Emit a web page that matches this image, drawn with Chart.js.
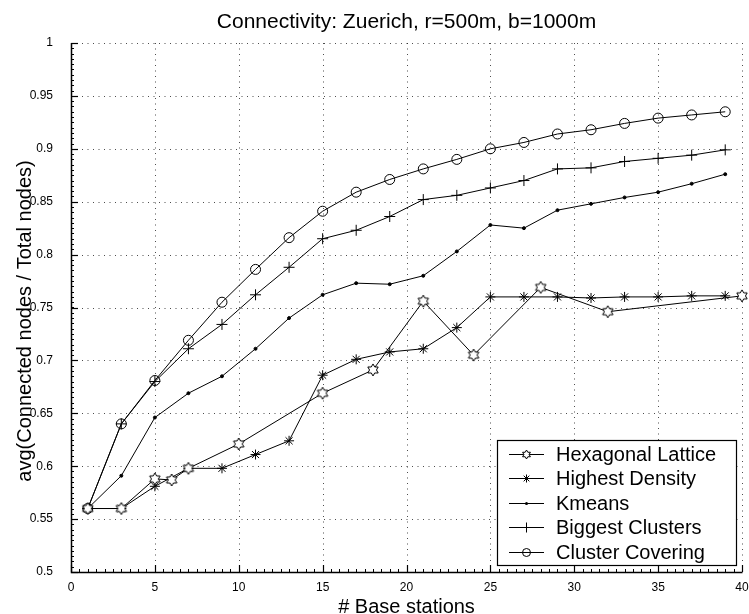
<!DOCTYPE html>
<html>
<head>
<meta charset="utf-8">
<script src="https://cdn.jsdelivr.net/npm/chart.js@4/dist/chart.umd.min.js"></script>
<style>
  html, body { margin: 0; padding: 0; background: #fff; }
  #wrap { width: 749px; height: 614px; }
</style>
</head>
<body>
<div id="wrap"><canvas id="c" width="749" height="614"></canvas></div>
<script>
const FONT = "'Liberation Sans', Arial, Helvetica, sans-serif";

const chartTitle = 'Connectivity: Zuerich, r=500m, b=1000m';
const xAxisTitle = '# Base stations';
const yAxisTitle = 'avg(Connected nodes / Total nodes)';

const xTickValues = [0, 5, 10, 15, 20, 25, 30, 35, 40];
const xTickLabels = ['0', '5', '10', '15', '20', '25', '30', '35', '40'];
const yTickValues = [0.5, 0.55, 0.6, 0.65, 0.7, 0.75, 0.8, 0.85, 0.9, 0.95, 1];
const yTickLabels = ['0.5', '0.55', '0.6', '0.65', '0.7', '0.75', '0.8', '0.85', '0.9', '0.95', '1'];

const seriesNames = ['Hexagonal Lattice', 'Highest Density', 'Kmeans', 'Biggest Clusters', 'Cluster Covering'];

// hexagonal lattice only exists for certain station counts
const hexStations = [1, 3, 5, 6, 7, 10, 15, 18, 21, 24, 28, 32, 40];
const hexValues   = [0.560, 0.560, 0.588, 0.587, 0.598, 0.621, 0.669, 0.691, 0.756, 0.705, 0.769, 0.746, 0.761];

// the other placement strategies share the same station counts
const stations       = [1, 3, 5, 7, 9, 11, 13, 15, 17, 19, 21, 23, 25, 27, 29, 31, 33, 35, 37, 39];
const densityValues  = [0.560, 0.560, 0.581, 0.598, 0.598, 0.611, 0.624, 0.686, 0.701, 0.708, 0.711, 0.731, 0.760, 0.760, 0.760, 0.759, 0.760, 0.760, 0.761, 0.761];
const kmeansValues   = [0.560, 0.591, 0.646, 0.669, 0.685, 0.711, 0.740, 0.762, 0.773, 0.772, 0.780, 0.803, 0.828, 0.825, 0.842, 0.848, 0.854, 0.859, 0.867, 0.876];
const biggestValues  = [0.560, 0.640, 0.680, 0.711, 0.734, 0.762, 0.788, 0.815, 0.823, 0.836, 0.852, 0.856, 0.863, 0.870, 0.881, 0.882, 0.888, 0.891, 0.894, 0.899];
const coveringValues = [0.560, 0.640, 0.681, 0.719, 0.755, 0.786, 0.816, 0.841, 0.859, 0.871, 0.881, 0.890, 0.900, 0.906, 0.914, 0.918, 0.924, 0.929, 0.932, 0.935];

// six-pointed star outline marker, rendered to a small canvas
function hexagramMarker(r) {
  const size = Math.ceil(r * 2) + 4;
  const cv = document.createElement('canvas');
  cv.width = cv.height = size;
  const g = cv.getContext('2d');
  const c = size / 2;
  const inner = r / Math.sqrt(3);
  g.beginPath();
  for (let k = 0; k < 12; k++) {
    const a = -Math.PI / 2 + k * Math.PI / 6;
    const rr = k % 2 === 0 ? r : inner;
    const px = c + rr * Math.cos(a), py = c + rr * Math.sin(a);
    if (k === 0) g.moveTo(px, py); else g.lineTo(px, py);
  }
  g.closePath();
  g.fillStyle = '#fff';
  g.fill();
  g.strokeStyle = '#000';
  g.lineWidth = 1;
  g.stroke();
  return cv;
}

const hexPoint = hexagramMarker(6);
const hexLegendPoint = hexagramMarker(4.5);

function pts(xs, ys) { return xs.map((x, i) => ({ x: x, y: ys[i] })); }

function series(label, data, style, radius, legendStyle, legendRadius) {
  return {
    label: label,
    data: data,
    borderColor: '#000',
    backgroundColor: 'rgba(0,0,0,0)',
    borderWidth: 1,
    pointStyle: style,
    pointRadius: radius,
    pointBorderColor: '#000',
    pointBackgroundColor: style === 'circle' && radius < 2 ? '#000' : 'rgba(0,0,0,0)',
    pointBorderWidth: 1,
    tension: 0,
    clip: false,
    legendStyle: legendStyle,
    legendRadius: legendRadius
  };
}

const datasets = [
  series(seriesNames[0], pts(hexStations, hexValues), hexPoint, 6, hexLegendPoint, 4.5),
  series(seriesNames[1], pts(stations, densityValues), 'star', 5, 'star', 4),
  series(seriesNames[2], pts(stations, kmeansValues), 'circle', 1.5, 'circle', 1.5),
  series(seriesNames[3], pts(stations, biggestValues), 'cross', 5.5, 'cross', 5),
  series(seriesNames[4], pts(stations, coveringValues), 'circle', 5, 'circle', 4)
];

// axes, dotted grid, inward ticks, titles
const framePlugin = {
  id: 'frame',
  beforeDatasetsDraw(chart) {
    const ctx = chart.ctx;
    const xs = chart.scales.x, ys = chart.scales.y;
    const { left, right, top, bottom } = chart.chartArea;
    ctx.save();
    // dotted grid
    ctx.strokeStyle = 'rgba(0,0,0,0.7)';
    ctx.lineWidth = 1;
    ctx.setLineDash([1, 4.5]);
    xTickValues.forEach(v => {
      if (v === xs.min) return;
      const px = Math.round(xs.getPixelForValue(v)) + 0.5;
      ctx.beginPath(); ctx.moveTo(px, bottom); ctx.lineTo(px, top); ctx.stroke();
    });
    yTickValues.forEach(v => {
      if (v === ys.min) return;
      const py = Math.round(ys.getPixelForValue(v)) + 0.5;
      ctx.beginPath(); ctx.moveTo(left, py); ctx.lineTo(right, py); ctx.stroke();
    });
    ctx.setLineDash([]);
    ctx.strokeStyle = '#000';
    // minor ticks
    ctx.lineWidth = 1;
    for (let v = xs.min; v <= xs.max + 1e-9; v += 0.5) {
      const px = Math.round(xs.getPixelForValue(v)) + 0.5;
      ctx.beginPath(); ctx.moveTo(px, bottom); ctx.lineTo(px, bottom - 3); ctx.stroke();
    }
    for (let v = ys.min; v <= ys.max + 1e-9; v += 0.005) {
      const py = Math.round(ys.getPixelForValue(v)) + 0.5;
      ctx.beginPath(); ctx.moveTo(left, py); ctx.lineTo(left + 3, py); ctx.stroke();
    }
    // major ticks
    ctx.lineWidth = 1.2;
    xTickValues.forEach(v => {
      const px = Math.round(xs.getPixelForValue(v)) + 0.5;
      ctx.beginPath(); ctx.moveTo(px, bottom); ctx.lineTo(px, bottom - 7); ctx.stroke();
    });
    yTickValues.forEach(v => {
      const py = Math.round(ys.getPixelForValue(v)) + 0.5;
      ctx.beginPath(); ctx.moveTo(left, py); ctx.lineTo(left + 7, py); ctx.stroke();
    });
    // axis lines
    ctx.lineWidth = 1.5;
    ctx.beginPath();
    ctx.moveTo(left + 0.5, top);
    ctx.lineTo(left + 0.5, bottom + 0.5);
    ctx.lineTo(right + 0.5, bottom + 0.5);
    ctx.stroke();
    ctx.restore();
  },
  afterDraw(chart) {
    const ctx = chart.ctx;
    const { left, right } = chart.chartArea;
    ctx.save();
    ctx.fillStyle = '#000';
    ctx.textAlign = 'center';
    ctx.textBaseline = 'alphabetic';
    ctx.font = '21px ' + FONT;
    ctx.fillText(chartTitle, (left + right) / 2, 28);
    ctx.font = '20px ' + FONT;
    ctx.fillText(xAxisTitle, (left + right) / 2, 613);
    ctx.translate(31, 321);
    ctx.rotate(-Math.PI / 2);
    ctx.fillText(yAxisTitle, 0, 0);
    ctx.restore();
  }
};

// boxed legend in the lower right of the plot
function drawMarker(ctx, style, r, x, y) {
  if (typeof style !== 'string') {
    ctx.drawImage(style, x - style.width / 2, y - style.height / 2);
    return;
  }
  ctx.beginPath();
  if (style === 'circle') {
    ctx.arc(x, y, r, 0, Math.PI * 2);
    if (r < 2) { ctx.fill(); } else { ctx.stroke(); }
    return;
  }
  if (style === 'cross' || style === 'star') {
    ctx.moveTo(x - r, y); ctx.lineTo(x + r, y);
    ctx.moveTo(x, y - r); ctx.lineTo(x, y + r);
  }
  if (style === 'star') {
    const d = r * Math.SQRT1_2;
    ctx.moveTo(x - d, y - d); ctx.lineTo(x + d, y + d);
    ctx.moveTo(x - d, y + d); ctx.lineTo(x + d, y - d);
  }
  ctx.stroke();
}

const legendPlugin = {
  id: 'boxLegend',
  afterDatasetsDraw(chart) {
    const ctx = chart.ctx;
    const bx = 497, by = 440, bw = 239, bh = 125;
    ctx.save();
    ctx.fillStyle = '#fff';
    ctx.fillRect(bx, by, bw, bh);
    ctx.strokeStyle = '#000';
    ctx.lineWidth = 1.2;
    ctx.strokeRect(bx + 0.5, by + 0.5, bw, bh);
    ctx.font = '20px ' + FONT;
    ctx.textBaseline = 'middle';
    ctx.textAlign = 'left';
    chart.data.datasets.forEach((ds, i) => {
      const y = Math.round(453.5 + i * 24.5) + 0.5;
      ctx.strokeStyle = '#000';
      ctx.fillStyle = '#000';
      ctx.lineWidth = 1;
      ctx.beginPath(); ctx.moveTo(509, y); ctx.lineTo(544, y); ctx.stroke();
      drawMarker(ctx, ds.legendStyle, ds.legendRadius, 526.5, y);
      ctx.fillStyle = '#000';
      ctx.fillText(ds.label, 556, y + 1);
    });
    ctx.restore();
  }
};

new Chart(document.getElementById('c'), {
  type: 'line',
  data: { datasets: datasets },
  plugins: [framePlugin, legendPlugin],
  options: {
    responsive: false,
    animation: false,
    devicePixelRatio: 1,
    layout: { padding: { top: 43, right: 6, left: 0, bottom: 0 } },
    plugins: {
      legend: { display: false },
      title: { display: false },
      tooltip: { enabled: false }
    },
    scales: {
      x: {
        type: 'linear',
        min: 0, max: 40,
        grid: { display: false },
        border: { display: false },
        afterBuildTicks: s => { s.ticks = xTickValues.map(v => ({ value: v })); },
        afterFit: s => { s.height = 42; s.paddingLeft = 0; s.paddingRight = 0; },
        ticks: {
          color: '#000',
          padding: 0,
          maxRotation: 0,
          autoSkip: false,
          font: { family: FONT, size: 12 },
          callback: (v, i) => xTickLabels[i]
        }
      },
      y: {
        type: 'linear',
        min: 0.5, max: 1,
        grid: { display: false },
        border: { display: false },
        afterBuildTicks: s => { s.ticks = yTickValues.map(v => ({ value: v })); },
        afterFit: s => { s.width = 71; s.paddingTop = 0; s.paddingBottom = 0; },
        ticks: {
          color: '#000',
          padding: 10,
          autoSkip: false,
          font: { family: FONT, size: 12 },
          callback: (v, i) => yTickLabels[i]
        }
      }
    }
  }
});
</script>
</body>
</html>
